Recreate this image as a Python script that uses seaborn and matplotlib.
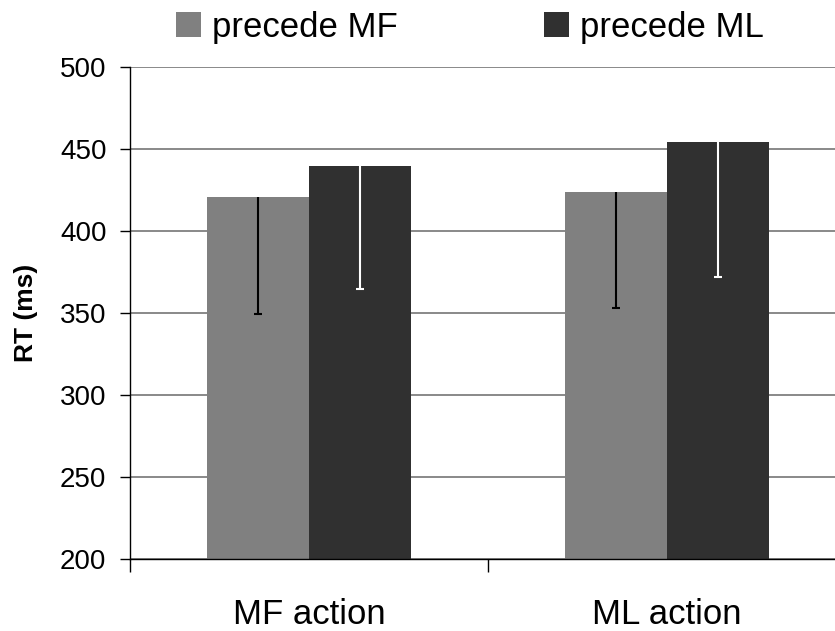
import matplotlib
matplotlib.use("Agg")
import matplotlib.pyplot as plt
import seaborn as sns
import pandas as pd
from matplotlib.patches import Patch

actions = ["MF action", "ML action"]
primes = ["precede MF", "precede ML"]
rt_precede_mf = [420.5, 423.5]
rt_precede_ml = [439.5, 454.0]
err_precede_mf = [71.0, 70.5]
err_precede_ml = [75.0, 82.0]
yticks = [200, 250, 300, 350, 400, 450, 500]

colors = ["#808080", "#303030"]
err_colors = ["#000000", "#ffffff"]

df = pd.DataFrame({
    "action": actions * 2,
    "prime": [primes[0]] * 2 + [primes[1]] * 2,
    "rt": rt_precede_mf + rt_precede_ml,
})

sns.set_style("white")
plt.rcParams["font.family"] = ["Liberation Sans", "DejaVu Sans"]
plt.rcParams["text.color"] = "black"
plt.rcParams["axes.labelcolor"] = "black"
plt.rcParams["xtick.color"] = "black"
plt.rcParams["ytick.color"] = "black"

fig = plt.figure(figsize=(8.35, 6.31), dpi=100)
ax = fig.add_axes([130 / 835, 1 - 559 / 631, (846 - 130) / 835, 492 / 631])

sns.barplot(data=df, x="action", y="rt", hue="prime", order=actions,
            hue_order=primes, palette=colors, saturation=1, width=0.57,
            errorbar=None, ax=ax, legend=False, zorder=2, linewidth=0)

# error bars (lower only)
errs = [err_precede_mf, err_precede_ml]
means = [rt_precede_mf, rt_precede_ml]
bar_containers = list(ax.containers)
for hi, container in enumerate(bar_containers):
    xs = [p.get_x() + p.get_width() / 2 for p in container.patches]
    eb = ax.errorbar(xs, means[hi], yerr=[errs[hi], [0] * len(xs)], fmt="none",
                     ecolor=err_colors[hi], elinewidth=1.5, capsize=3,
                     capthick=1.5, zorder=3)
    caps = eb[1]
    if len(caps) > 1:
        caps[1].set_visible(False)

ax.set_ylim(200, 500)
ax.set_xlim(-0.5, 1.5)
ax.set_yticks(yticks)
ax.set_yticklabels([str(t) for t in yticks], fontsize=20)
ax.yaxis.grid(True, color="#808080", linewidth=1.3, zorder=0)
ax.set_axisbelow(True)

ax.tick_params(axis="y", which="major", direction="out", left=True, length=7,
               width=1, color="black", pad=10)
ax.tick_params(axis="x", which="major", bottom=True, length=0, pad=28,
               labelsize=25)
ax.set_xticks([-0.5, 0.5, 1.5], minor=True)
ax.tick_params(axis="x", which="minor", direction="out", bottom=True,
               length=9, width=1, color="black")
ax.set_xlabel("")
ax.set_ylabel("RT (ms)", fontsize=19, fontweight="bold", labelpad=16)

for s in ["top", "right"]:
    ax.spines[s].set_visible(False)
for s in ["left", "bottom"]:
    ax.spines[s].set_color("black")
    ax.spines[s].set_linewidth(1)

handles = [Patch(facecolor=c, edgecolor="none") for c in colors]
fig.legend(handles, primes, loc="center", bbox_to_anchor=(470 / 835, 1 - 27 / 631),
           ncol=2, frameon=False, fontsize=25, handlelength=0.72,
           handleheight=0.72, handletextpad=0.32, columnspacing=4.2)

fig.savefig("out.png", dpi=100)
